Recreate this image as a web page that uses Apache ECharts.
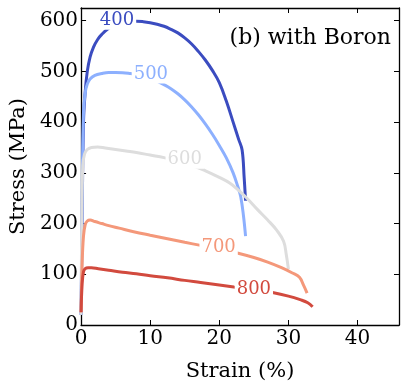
<!DOCTYPE html>
<html>
<head>
<meta charset="utf-8">
<script src="https://cdn.jsdelivr.net/npm/echarts@6/dist/echarts.min.js"></script>
<style>
  html, body { margin: 0; padding: 0; background: #fff; }
  #chart { width: 407px; height: 392px; }
</style>
</head>
<body>
<div id="chart"></div>
<script>
// temperatures of the curves and their colours
var temps = ['400', '500', '600', '700', '800'];
var colors = ['#3b4cc0', '#8db0fe', '#dddddd', '#f4987a', '#d24a3e'];

// [strain %, stress MPa]
var curve400 = [[0,20],[0.15,200],[0.35,400],[0.6,460],[0.9,500],[1.3,528],[1.8,548],[2.4,563],[3,573],[4,585],[5,592],[6,596],[7,598],[8,599],[9,598],[10,596],[11,593],[12,589],[13,583],[14,576],[15,566],[16,554],[17,539],[18,522],[19,502],[20,478],[21,442],[22,400],[22.8,366],[23.3,345],[23.6,290],[23.8,245]];
var curve500 = [[0,20],[0.15,250],[0.35,420],[0.6,458],[0.9,475],[1.3,485],[2,492],[3,496],[4,498],[5,498],[6,497.5],[7,496],[8,494],[9,491],[10,487],[11,481],[12,474],[13,466],[14,456],[15,444],[16,430],[17,414],[18,396],[19,376],[20,354],[21,330],[22,300],[22.7,272],[23.1,253],[23.5,215],[23.8,175]];
var curve600 = [[0,20],[0.1,200],[0.25,315],[0.5,337],[0.9,346],[1.5,350],[2.4,351],[3.5,349],[5,346],[6.5,343],[8,340],[10,335],[12,330],[14,323],[16,315],[18,304],[20,291],[21.5,280],[22.6,268],[24,250],[25.5,228],[27,207],[28.3,187],[29.3,165],[29.7,138],[30.0,110]];
var curve700 = [[0,25],[0.15,120],[0.35,175],[0.6,198],[0.9,205],[1.3,207],[2,204],[3,200],[4,196],[5.5,191],[7.6,184],[10,177],[12.5,170],[15,163],[17.3,157],[20,150],[22.6,142],[25,133],[27,124],[29,113],[30.5,103],[31.6,94],[32.2,78],[32.7,63]];
var curve800 = [[0,25],[0.15,80],[0.35,105],[0.6,111],[1,113],[1.5,113],[2.5,111],[4,108],[6,104],[8,101],[10,97],[12.5,93],[15,88],[17.3,84],[20,79],[22.1,75],[25,70],[27.7,64],[30,57],[31.7,50],[32.8,44],[33.5,36]];
var curves = [curve400, curve500, curve600, curve700, curve800];

// inline label spots on each curve
var labelSpots = [[5.2,600],[10.1,494],[15,326],[19.9,154],[25,71]];

var xTicks = [0, 10, 20, 30, 40];
var yTicks = [0, 100, 200, 300, 400, 500, 600];

var font = 'DejaVu Serif';

var dom = document.getElementById('chart');
var myChart = echarts.init(dom);

var series = [];
for (var i = 0; i < temps.length; i++) {
    series.push({
        name: temps[i],
        type: 'line',
        data: curves[i],
        smooth: 0.4,
        showSymbol: false,
        symbol: 'none',
        lineStyle: { color: colors[i], width: 3 },
        markPoint: {
            symbol: 'rect',
            symbolSize: 0,
            silent: true,
            label: {
                show: true,
                position: 'inside',
                formatter: temps[i],
                color: colors[i],
                fontFamily: font,
                fontSize: 18,
                backgroundColor: '#fff',
                padding: [0, 2]
            },
            data: [{ coord: labelSpots[i] }]
        },
        z: 2
    });
}

var axisLine = { show: true, onZero: false, lineStyle: { color: '#000', width: 1.3 } };
var axisTick = { show: true, inside: true, length: 5, lineStyle: { color: '#000', width: 1 } };

var option = {
    animation: false,
    grid: { left: 80, right: 8, top: 8, bottom: 67 },
    title: {
        text: '(b) with Boron',
        right: 11,
        top: 22,
        textStyle: { fontFamily: font, fontSize: 22, fontWeight: 'normal', color: '#000' }
    },
    xAxis: [{
        type: 'value', min: 0, max: 46, interval: 10,
        name: 'Strain (%)', nameLocation: 'middle', nameGap: 36,
        nameTextStyle: { fontFamily: font, fontSize: 21, color: '#000' },
        axisLine: axisLine, axisTick: axisTick,
        axisLabel: { fontFamily: font, fontSize: 20, color: '#000', margin: 4,
            formatter: function (v) { return xTicks.indexOf(v) >= 0 ? v : ''; } },
        splitLine: { show: false }
    }, {
        type: 'value', min: 0, max: 46, interval: 10, position: 'top',
        axisLine: axisLine, axisTick: axisTick, axisLabel: { show: false }, splitLine: { show: false }
    }],
    yAxis: [{
        type: 'value', min: 0, max: 625, interval: 100,
        name: 'Stress (MPa)', nameLocation: 'middle', nameGap: 50,
        nameTextStyle: { fontFamily: font, fontSize: 21, color: '#000' },
        axisLine: axisLine, axisTick: axisTick,
        axisLabel: { fontFamily: font, fontSize: 20, color: '#000', margin: 3,
            formatter: function (v) { return yTicks.indexOf(v) >= 0 ? v : ''; } },
        splitLine: { show: false }
    }, {
        type: 'value', min: 0, max: 625, interval: 100, position: 'right',
        axisLine: axisLine, axisTick: axisTick, axisLabel: { show: false }, splitLine: { show: false }
    }],
    series: series
};

myChart.setOption(option, true);
</script>
</body>
</html>
